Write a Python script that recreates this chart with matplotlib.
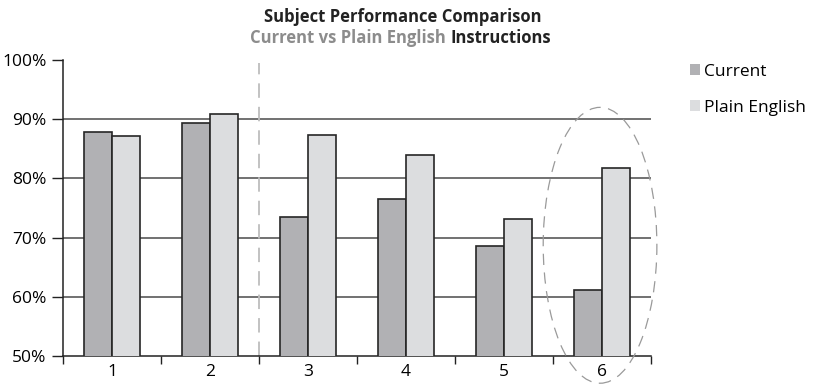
import numpy as np
import matplotlib.pyplot as plt
from matplotlib.patches import Ellipse

plt.rcParams['font.family'] = ['Open Sans', 'DejaVu Sans']

subjects = ['1', '2', '3', '4', '5', '6']
current = [87.9, 89.3, 73.4, 76.5, 68.6, 61.1]
plain = [87.1, 90.9, 87.3, 83.9, 73.2, 81.8]

c_cur = '#b1b1b4'
c_plain = '#dcdddf'
edge = '#262626'

fig = plt.figure(figsize=(8.16, 3.84), dpi=100)
ax = fig.add_axes([63 / 816, 28 / 384, 588 / 816, 296 / 384])

x = np.arange(1, len(subjects) + 1)
w = 0.29
ax.bar(x - w / 2, current, w, color=c_cur, edgecolor=edge,
       linewidth=1.2, label='Current', zorder=3)
ax.bar(x + w / 2, plain, w, color=c_plain, edgecolor=edge,
       linewidth=1.2, label='Plain English', zorder=3)

ax.set_ylim(50, 100)
ax.set_xlim(0.5, 6.5)
ax.set_yticks([50, 60, 70, 80, 90, 100])
ax.set_yticklabels(['50%', '60%', '70%', '80%', '90%', '100%'])
for yv in [60, 70, 80, 90]:
    ax.axhline(yv, color='#4a4a4a', linewidth=1.1, zorder=1)

ax.set_xticks(x)
ax.set_xticklabels(subjects)
ax.set_xticks(np.arange(0.5, 7, 1), minor=True)
ax.tick_params(axis='x', which='major', length=0, labelsize=12.5, pad=6)
ax.tick_params(axis='x', which='minor', length=6, width=1, color='#222')
ax.tick_params(axis='y', length=8, width=1, color='#222', labelsize=12.5,
               pad=4, direction='out')
for s in ['top', 'right']:
    ax.spines[s].set_visible(False)
for s in ['left', 'bottom']:
    ax.spines[s].set_color('#222')
    ax.spines[s].set_linewidth(1.1)

# divider between first two subjects and the rest
ax.axvline(2.5, ymax=0.99, color='#bdbdbd', linewidth=1.3, dashes=(8, 5), zorder=2)

# highlight subject 6
ell = Ellipse((5.98, 68.7), 1.16, 46.6, fill=False, edgecolor='#9a9a9a',
              linewidth=0.9, linestyle=(0, (9, 6)), clip_on=False, zorder=4)
ax.add_patch(ell)

fig.text(0.494, 0.955, 'Subject Performance Comparison', ha='center',
         va='center', fontsize=12, fontweight='bold', color='#222')
t1 = fig.text(0.306, 0.9, 'Current vs Plain English', ha='left', va='center',
              fontsize=12, fontweight='bold', color='#8c8c8c')
fig.canvas.draw()
bb = t1.get_window_extent()
fig.text(bb.x1 / fig.bbox.width + 0.006, 0.9, 'Instructions', ha='left',
         va='center', fontsize=12, fontweight='bold', color='#222')

leg = ax.legend(loc='upper left', bbox_to_anchor=(1.04, 1.04), frameon=False,
                fontsize=12.5, handlelength=0.55, handleheight=0.55,
                handletextpad=0.25, labelspacing=1.15)
for h in leg.legend_handles:
    h.set_edgecolor('none')

fig.savefig('out.png', dpi=100)
